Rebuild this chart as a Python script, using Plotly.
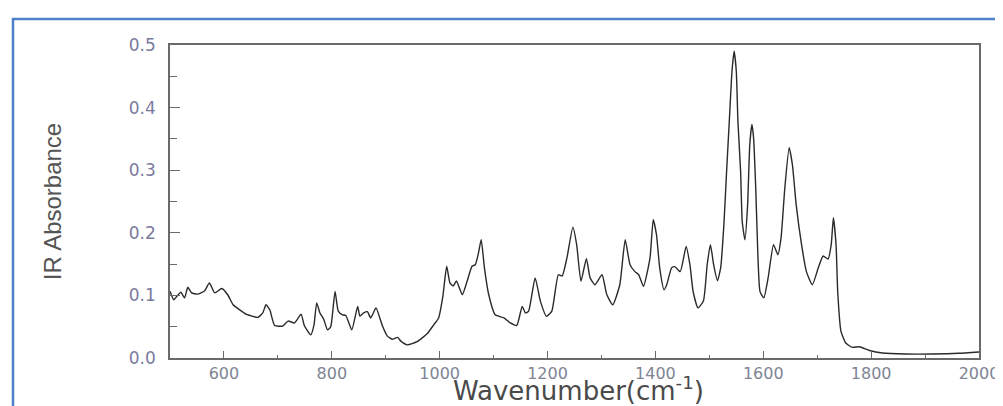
import plotly.graph_objects as go

wavenumber = [500, 507, 514, 520, 527, 533, 540, 551, 564, 573, 583, 596, 607, 617, 629, 641,
              663, 672, 678, 685, 694, 709, 719, 731, 743, 749, 761, 767, 772, 778, 785, 792,
              798, 806, 812, 820, 826, 837, 848, 852, 859, 866, 872, 882, 889, 894, 903, 912,
              922, 928, 940, 958, 977, 989, 998, 1006, 1013, 1019, 1025, 1031, 1042, 1051,
              1060, 1066, 1072, 1077, 1083, 1091, 1103, 1119, 1131, 1143, 1153, 1159, 1165,
              1177, 1187, 1198, 1208, 1220, 1227, 1236, 1247, 1254, 1262, 1272, 1279, 1288,
              1301, 1310, 1321, 1334, 1344, 1353, 1362, 1369, 1378, 1390, 1396, 1402, 1408,
              1416, 1421, 1430, 1436, 1446, 1457, 1464, 1470, 1479, 1489, 1496, 1502, 1508,
              1515, 1521, 1527, 1532, 1537, 1542, 1546, 1550, 1553, 1558, 1561, 1566, 1571,
              1575, 1579, 1582, 1586, 1590, 1594, 1601, 1609, 1619, 1627, 1633, 1640, 1648,
              1654, 1661, 1671, 1680, 1691, 1702, 1711, 1720, 1726, 1730, 1735, 1738, 1744,
              1753, 1765, 1778, 1797, 1821, 1864, 1913, 1962, 2000]
absorbance = [0.1065, 0.093, 0.100, 0.105, 0.096, 0.113, 0.104, 0.102, 0.107, 0.120, 0.104,
              0.111, 0.101, 0.085, 0.077, 0.070, 0.065, 0.072, 0.085, 0.077, 0.052, 0.051,
              0.059, 0.056, 0.070, 0.052, 0.037, 0.053, 0.088, 0.072, 0.062, 0.045, 0.050,
              0.1065, 0.075, 0.069, 0.068, 0.045, 0.0825, 0.067, 0.072, 0.074, 0.064, 0.080,
              0.064, 0.051, 0.035, 0.030, 0.033, 0.027, 0.021, 0.026, 0.039, 0.053, 0.064,
              0.099, 0.1465, 0.120, 0.115, 0.123, 0.101, 0.123, 0.1465, 0.149, 0.168, 0.189,
              0.144, 0.101, 0.069, 0.064, 0.056, 0.052, 0.0825, 0.072, 0.075, 0.128, 0.090,
              0.0666, 0.075, 0.133, 0.131, 0.160, 0.209, 0.181, 0.1225, 0.1587, 0.128, 0.117,
              0.133, 0.101, 0.085, 0.117, 0.189, 0.149, 0.138, 0.133, 0.1145, 0.160, 0.221,
              0.197, 0.144, 0.109, 0.117, 0.144, 0.146, 0.138, 0.178, 0.149, 0.106, 0.080,
              0.091, 0.149, 0.181, 0.149, 0.1235, 0.144, 0.213, 0.298, 0.378, 0.458, 0.490,
              0.458, 0.378, 0.298, 0.218, 0.189, 0.245, 0.341, 0.373, 0.352, 0.272, 0.165,
              0.106, 0.096, 0.128, 0.181, 0.165, 0.192, 0.272, 0.336, 0.309, 0.245, 0.181,
              0.138, 0.117, 0.144, 0.163, 0.158, 0.181, 0.224, 0.180, 0.1065, 0.043, 0.024,
              0.017, 0.018, 0.012, 0.008, 0.0064, 0.0064, 0.0075, 0.0096]

x_ticks = [600, 800, 1000, 1200, 1400, 1600, 1800, 2000]
x_tick_labels = ["600", "800", "1000", "1200", "1400", "1600", "1800", "2000"]
y_ticks = [0.0, 0.1, 0.2, 0.3, 0.4, 0.5]
y_tick_labels = ["0.0", "0.1", "0.2", "0.3", "0.4", "0.5"]
x_title = "Wavenumber(cm<sup>-1</sup>)"
y_title = "IR Absorbance"

W, H = 1003, 406
ML, MR, MT, MB = 162, 32, 37, 56
pw, ph = W - ML - MR, H - MT - MB

fig = go.Figure()
fig.add_trace(go.Scatter(x=wavenumber, y=absorbance, mode="lines",
                         line=dict(color="#2a2a2a", width=1.4, shape="spline", smoothing=0.5),
                         showlegend=False))

axis_common = dict(showgrid=False, zeroline=False, showline=True, linecolor="#6a6a6a",
                   linewidth=1.5, mirror=True, ticks="inside", tickcolor="#6a6a6a",
                   tickwidth=1.3)

fig.update_xaxes(range=[500, 2000], tickvals=x_ticks, ticktext=x_tick_labels,
                 ticklen=7,
                 minor=dict(dtick=100, tick0=0, ticks="inside", ticklen=3,
                            tickcolor="#6a6a6a", tickwidth=1.3),
                 tickfont=dict(family="DejaVu Sans", size=16, color="#7e8494"),
                 **axis_common)
fig.update_yaxes(range=[0, 0.5], tickvals=y_ticks, ticktext=y_tick_labels,
                 ticklen=10, ticklabelstandoff=9,
                 minor=dict(dtick=0.05, tick0=0, ticks="inside", ticklen=7,
                            tickcolor="#6a6a6a", tickwidth=1.3),
                 tickfont=dict(family="DejaVu Sans", size=17, color="#7a7a9e"),
                 title=dict(text=y_title, standoff=60,
                            font=dict(family="Liberation Sans", size=24, color="#555555")),
                 **axis_common)

# x-axis title placed precisely under the axis
fig.add_annotation(text=x_title, xref="paper", yref="paper",
                   x=(570 - ML) / pw, y=(H - MB - 381) / ph,
                   xanchor="center", yanchor="middle", showarrow=False,
                   font=dict(family="DejaVu Sans", size=26, color="#4a4a4a"))

# outer blue frame of the figure
fig.add_shape(type="rect", xref="paper", yref="paper",
              x0=(5 - ML) / pw, x1=(W + 10 - ML) / pw,
              y0=(H - MB - (H + 10)) / ph, y1=(H - MB - 11) / ph,
              line=dict(color="#4f80c8", width=2.5), fillcolor="rgba(0,0,0,0)", layer="below")

fig.update_layout(width=W, height=H, margin=dict(l=ML, r=MR, t=MT, b=MB, autoexpand=False),
                  paper_bgcolor="white", plot_bgcolor="white")

fig.write_html("out.html")
